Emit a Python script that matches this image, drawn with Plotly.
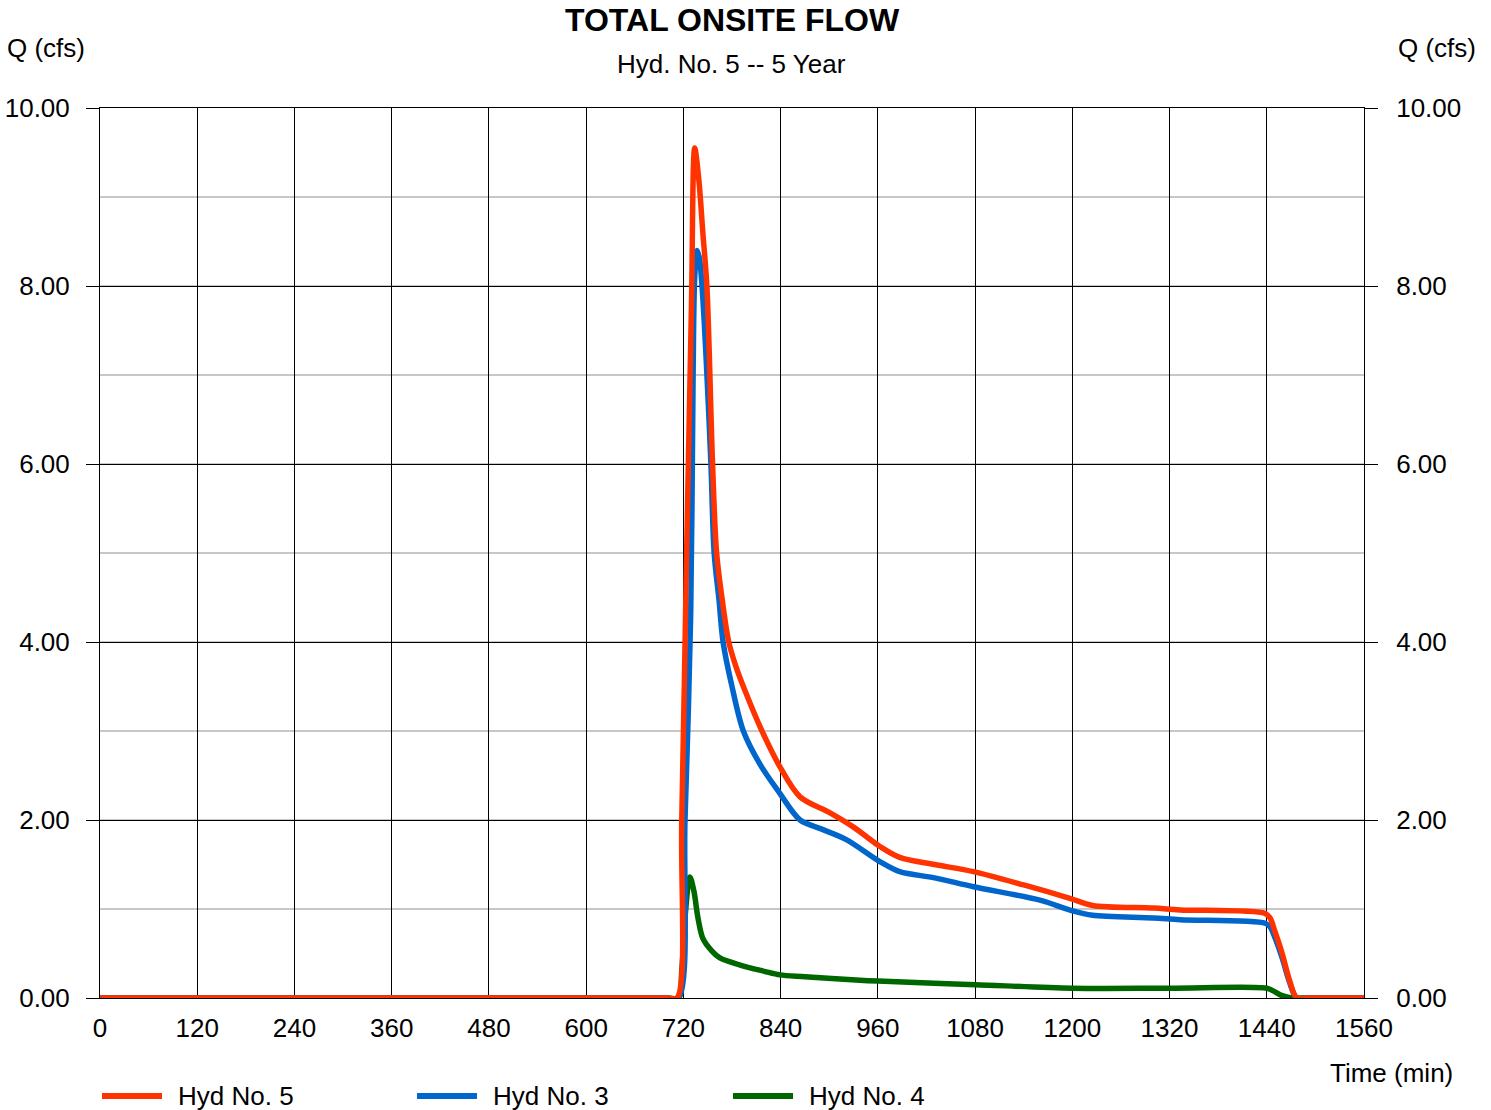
import plotly.graph_objects as go

# ---- data ----
hyd5_t = [0, 120, 240, 360, 480, 600, 700, 712, 718, 724, 730, 734, 739, 744, 749, 756, 761, 768, 776, 785, 794, 817, 839, 864, 901, 930, 963, 987, 1030, 1078, 1140, 1197, 1225, 1300, 1333, 1438, 1444, 1450, 1459, 1468, 1477, 1490, 1560]
hyd5_q = [0, 0, 0, 0, 0, 0, 0, 0, 2.0, 5.0, 7.8, 9.55, 9.2, 8.6, 8.0, 6.0, 5.0, 4.47, 4.0, 3.72, 3.5, 3.0, 2.6, 2.26, 2.08, 1.92, 1.70, 1.58, 1.5, 1.42, 1.27, 1.12, 1.04, 1.01, 0.99, 0.95, 0.9, 0.75, 0.5, 0.2, 0.0, 0.0, 0.0]

hyd3_t = [0, 120, 240, 360, 480, 600, 700, 714, 722, 729, 732, 734, 737, 740, 743, 748, 754, 758, 764, 769, 780, 794, 815, 839, 864, 890, 921, 963, 987, 1030, 1078, 1160, 1200, 1225, 1300, 1333, 1438, 1444, 1450, 1459, 1468, 1477, 1490, 1560]
hyd3_q = [0, 0, 0, 0, 0, 0, 0, 0, 2.0, 4.3, 7.0, 8.1, 8.4, 8.3, 8.0, 7.2, 6.0, 5.0, 4.47, 4.0, 3.5, 3.0, 2.62, 2.3, 2.0, 1.9, 1.78, 1.53, 1.42, 1.35, 1.25, 1.1, 0.98, 0.93, 0.9, 0.88, 0.84, 0.8, 0.68, 0.45, 0.18, 0.0, 0.0, 0.0]

hyd4_t = [0, 120, 240, 360, 480, 600, 700, 714, 718, 722, 728, 733, 738, 744, 755, 765, 790, 820, 839, 870, 938, 960, 1080, 1200, 1320, 1440, 1448, 1458, 1466, 1474, 1490, 1560]
hyd4_q = [0, 0, 0, 0, 0, 0, 0, 0, 0.3, 0.9, 1.36, 1.2, 0.9, 0.67, 0.53, 0.45, 0.37, 0.3, 0.26, 0.24, 0.2, 0.19, 0.15, 0.11, 0.11, 0.11, 0.08, 0.03, 0.01, 0.0, 0.0, 0.0]

series_names = ["Hyd No. 5", "Hyd No. 3", "Hyd No. 4"]
series_colors = ["#FF3300", "#0066CC", "#006600"]

x_ticks = list(range(0, 1561, 120))
y_ticks = [0, 2, 4, 6, 8, 10]

FONT = "Liberation Sans, Arial, sans-serif"
W, H = 1491, 1110
ML, MR, MT, MB = 100, 127, 108, 112
pw = W - ML - MR
ph = H - MT - MB


def px(pix):
    return (pix - ML) / pw


def py(pix):
    return (H - MB - pix) / ph


fig = go.Figure()
# draw order: green, blue, red (red on top)
for t, q, i in [(hyd4_t, hyd4_q, 2), (hyd3_t, hyd3_q, 1), (hyd5_t, hyd5_q, 0)]:
    fig.add_trace(go.Scatter(x=t, y=q, mode="lines", name=series_names[i], showlegend=False,
                             line=dict(color=series_colors[i], width=5.5, shape="spline", smoothing=0.9)))
# invisible trace to activate the right-hand axis
fig.add_trace(go.Scatter(x=[0], y=[0], yaxis="y2", mode="markers", marker=dict(opacity=0),
                         showlegend=False, hoverinfo="skip"))

fig.update_layout(
    width=W, height=H,
    margin=dict(l=ML, r=MR, t=MT, b=MB, autoexpand=False),
    paper_bgcolor="white", plot_bgcolor="white",
    font=dict(family=FONT, size=26, color="black"),
    showlegend=False,
    xaxis=dict(range=[0, 1560], tickvals=x_ticks, ticktext=[str(v) for v in x_ticks],
               showgrid=True, gridcolor="black", gridwidth=1,
               showline=True, linecolor="black", linewidth=1, mirror=True,
               ticks="", ticklabelstandoff=7, zeroline=False, automargin=False,
               tickfont=dict(size=26)),
    yaxis=dict(range=[0, 10], tickvals=y_ticks, tickformat=".2f",
               showgrid=True, gridcolor="black", gridwidth=1,
               minor=dict(dtick=1, showgrid=True, gridcolor="#C8C8C8", gridwidth=2),
               showline=True, linecolor="black", linewidth=1, mirror=True,
               ticks="outside", ticklen=13, tickcolor="black", zeroline=False, automargin=False,
               ticklabelstandoff=11, tickfont=dict(size=26)),
    yaxis2=dict(range=[0, 10], tickvals=y_ticks, tickformat=".2f", overlaying="y", side="right",
                showgrid=False, ticks="outside", ticklen=13, tickcolor="black", automargin=False,
                showline=False, zeroline=False, ticklabelstandoff=13, tickfont=dict(size=26)),
)

fig.add_annotation(text="<b>TOTAL ONSITE FLOW</b>", x=px(732), y=py(20), xref="paper", yref="paper",
                   showarrow=False, font=dict(size=32), xanchor="center", yanchor="middle")
fig.add_annotation(text="Hyd. No. 5 -- 5 Year", x=px(731), y=py(64), xref="paper", yref="paper",
                   showarrow=False, font=dict(size=26), xanchor="center", yanchor="middle")
fig.add_annotation(text="Q (cfs)", x=px(5), y=py(48), xref="paper", yref="paper",
                   showarrow=False, font=dict(size=26), xanchor="left", yanchor="middle")
fig.add_annotation(text="Q (cfs)", x=px(1478), y=py(48), xref="paper", yref="paper",
                   showarrow=False, font=dict(size=26), xanchor="right", yanchor="middle")
fig.add_annotation(text="Time (min)", x=px(1455), y=py(1073), xref="paper", yref="paper",
                   showarrow=False, font=dict(size=26), xanchor="right", yanchor="middle")

# legend (drawn manually to match the long sample lines)
legend_x = [100, 415, 731]
for i, lx in enumerate(legend_x):
    fig.add_shape(type="line", xref="paper", yref="paper",
                  x0=px(lx + 2), x1=px(lx + 62), y0=py(1096), y1=py(1096),
                  line=dict(color=series_colors[i], width=6))
    fig.add_annotation(text=series_names[i], x=px(lx + 76), y=py(1096), xref="paper", yref="paper",
                       showarrow=False, font=dict(size=26), xanchor="left", yanchor="middle")

fig.write_html("out.html")
